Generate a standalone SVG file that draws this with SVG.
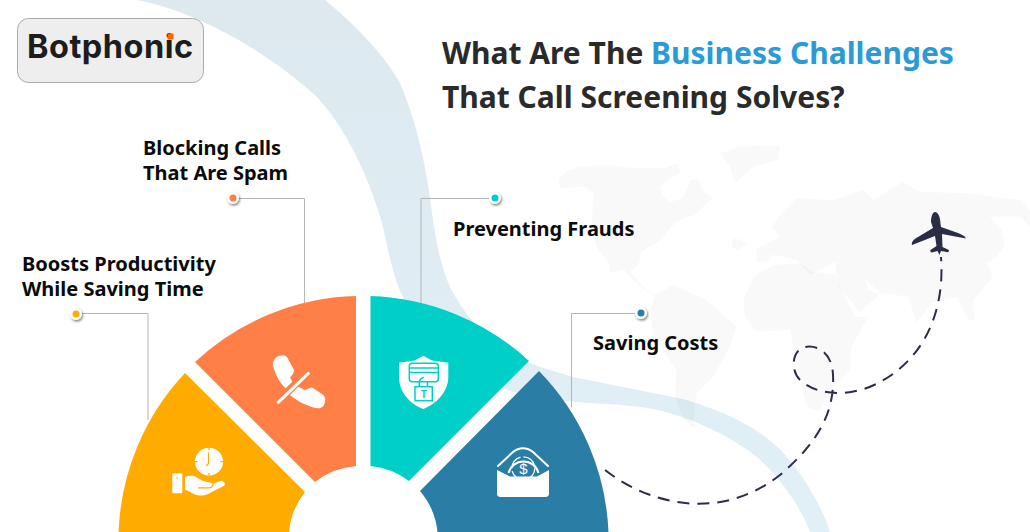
<svg xmlns="http://www.w3.org/2000/svg" width="1030" height="532" viewBox="0 0 1030 532">
<style>
.t{font-family:"Noto Sans","Open Sans",sans-serif;font-weight:700;fill:#2a2a2a;font-size:30px}
.l{font-family:"Noto Sans","Open Sans",sans-serif;font-weight:700;fill:#0b0b0b;font-size:20px}
.c{fill:none;stroke:#b4b4b4;stroke-width:1}
.w{fill:#fff}
.map{fill:#000;fill-opacity:.024}
</style>
<defs>
<linearGradient id="band" x1="0" y1="0" x2="0" y2="1"><stop offset="0" stop-color="#dde9ef"/><stop offset="1" stop-color="#e1f0f7"/></linearGradient>
<filter id="sh" x="-50%" y="-50%" width="200%" height="200%"><feDropShadow dx="1" dy="1.500" stdDeviation="1" flood-color="#000" flood-opacity=".5"/></filter>
</defs>
<rect width="1030" height="532" fill="#fff"/>
<g id="background">
<path fill="url(#band)" d="M137,0 C190,10 260,45 317,97 C352,135 373,190 383,227 C390,260 395,282 403,297 C425,345 465,385 540,398 C570,403 610,403 640,407 C680,412 725,432 757,457 C780,478 800,505 810,532 L830,532 C820,500 795,462 773,443 C755,428 735,418 723,413 C700,404 685,399 673,397 L573,377 L540,367 C495,350 468,322 450,287 C440,265 436,240 432,213 C428,180 420,130 400,83 C385,55 350,20 325,0 Z"/>
<g id="map" transform="translate(540 130) scale(.3333)">
<path class="map" d="M55,150 L75,125 L115,110 L200,105 L290,115 L370,115 L415,100 L420,130 L385,150 L360,170 L365,195 L390,215 L430,205 L450,150 L475,145 L490,185 L520,205 L495,225 L465,255 L420,270 L395,290 L355,335 L305,365 L295,405 L270,425 L320,480 L345,495 L400,465 L500,510 L590,590 L570,650 L520,740 L470,790 L462,860 L465,895 L430,870 L405,800 L410,720 L340,620 L330,540 L345,500 L300,470 L250,420 L210,430 L205,395 L170,355 L155,290 L160,190 L135,170 L60,175 Z"/>
<path class="map" d="M540,70 L600,50 L720,45 L715,90 L640,110 L585,160 L570,110 Z"/>
<path class="map" d="M580,325 L605,330 L620,345 L590,362 L575,350 Z"/>
<path class="map" d="M610,510 L640,440 L700,405 L780,400 L820,425 L885,432 L900,470 L945,560 L985,560 L935,650 L930,720 L880,770 L835,845 L800,830 L770,700 L750,600 L650,605 L615,560 Z"/>
<path class="map" d="M650,395 L650,355 L720,320 L695,290 L725,250 L770,205 L880,210 L970,180 L1000,210 L1090,155 L1140,185 L1290,190 L1440,210 L1470,240 L1470,290 L1440,260 L1350,260 L1385,300 L1395,345 L1370,380 L1340,400 L1360,440 L1300,510 L1305,570 L1285,572 L1250,500 L1175,520 L1130,580 L1105,500 L1020,490 L975,445 L985,480 L1020,492 L960,545 L895,470 L888,430 L888,395 L810,435 L770,390 L700,375 L680,395 Z"/>
</g>
</g>
<g id="connectors">
<path class="c" d="M76,313.500 H148 V420"/>
<path class="c" d="M233,198.500 H304.500 V303"/>
<path class="c" d="M495,198.500 H421 V303"/>
<path class="c" d="M641,313.500 H571.500 V407"/>
<path id="flight" fill="none" stroke="#2a2d45" stroke-width="2" stroke-dasharray="12 8" d="M605,470 C650,505 720,522 780,475 C815,445 835,415 833,375 C832,350 815,345 805,347 C792,350 790,370 800,380 C820,398 855,396 880,382 C925,358 945,310 941,257"/>
</g>
<g id="logo">
<rect x="17.500" y="18.500" width="186" height="64" rx="11" fill="#eee" stroke="#aaa"/>
<text x="27" y="57.500" font-family="Inter,sans-serif" font-weight="700" font-size="32.500" letter-spacing=".5" fill="#1d1d1d">Botphonic</text>
<rect x="167.500" y="33.500" width="6" height="6" fill="#f60"/>
</g>
<g id="title">
<text class="t" x="442" y="64">What Are The <tspan fill="#2b9bd6">Business Challenges</tspan></text>
<text class="t" x="442" y="108">That Call Screening Solves?</text>
</g>
<g id="node-productivity">
<path fill="#ffab00" d="M185,373 A245,245 0 0 0 118.600,532 L289,532 A75,75 0 0 1 305,492 Z"/>
<circle class="w" cx="209" cy="461.700" r="14"/>
<path fill="none" stroke="#ffab00" stroke-width="1.200" d="M209,447 V450 M209,473 V476.500 M194,461.700 H197.500 M220.500,461.700 H224 M208.500,452.500 L208.500,463.500 L206,466"/>
<rect class="w" x="172.300" y="473.300" width="10" height="20" rx="1"/>
<circle cx="177.300" cy="478.300" r=".8" fill="#ffab00"/>
<path class="w" d="M185,477 C189,475 193,475 196,477 L203,481 C207,482 211,482 213,484 L220,481 C223,480 226,483 224.500,485.500 L209,493.500 C204,496 199,496 195,494.500 L185,489.500 Z"/>
<path fill="none" stroke="#ffab00" stroke-width="1.200" d="M198,487.800 H209 C212,487.800 213,486 213,484"/>
<text class="l" x="22" y="271">Boosts Productivity</text>
<text class="l" x="22" y="296">While Saving Time</text>
<g filter="url(#sh)"><circle class="w" cx="76" cy="314" r="6"/></g>
<circle cx="76" cy="314" r="3.500" fill="#ffab00"/>
</g>
<g id="node-spam">
<path fill="#ff7f47" d="M356,296 A245,245 0 0 0 195,362 L315,482 A75,75 0 0 1 356,466 Z"/>
<path class="w" d="M272.700,365 C273,360 276,356 280,355.700 C283,355 286,355.500 287,357 L294,370 C294,373 292,376 290,377.300 L292.300,381.700 L285.700,388.300 C281,384 276,377 272.700,365 Z"/>
<path class="w" d="M298.300,386.700 L305,390 L311.700,387.300 L322,394 C325,396 326,399 325,402 C324,406 322,408.300 318,408.300 C309,407 298,402 290,395 Z"/>
<path fill="none" stroke="#ff7f47" stroke-width="5" d="M309,372 L277,403"/>
<path fill="none" stroke="#fff" stroke-width="3" stroke-linecap="round" d="M308.300,373.300 L278.300,402.300"/>
<text class="l" x="143" y="155">Blocking Calls</text>
<text class="l" x="143" y="180">That Are Spam</text>
<g filter="url(#sh)"><circle class="w" cx="233" cy="198" r="6"/></g>
<circle cx="233" cy="198" r="3.500" fill="#ff7f47"/>
</g>
<g id="node-frauds">
<path fill="#00cfc8" d="M370.500,296 A245,245 0 0 1 529,361 L409,481 A75,75 0 0 0 370.500,466 Z"/>
<path class="w" d="M423.300,355.700 L432,360.500 L448.300,362.700 V377 C448.300,392 436,404 423.300,409 C410,404 399,392 399,377 V362.700 L414.500,360.500 Z"/>
<g fill="none" stroke="#00cfc8" stroke-width="1.500">
<rect x="409.300" y="363.300" width="29" height="18.400" rx="3"/>
<path d="M409.300,368 H438.300 M409.300,372.500 H438.300 M419.300,386.700 V383 C419.300,380 421,378 424,377.500 M427.500,381.700 V386.700"/>
<rect x="415" y="386.700" width="17.300" height="14" fill="#fff"/>
</g>
<text x="423.700" y="398" text-anchor="middle" font-family="Liberation Sans,sans-serif" font-weight="700" font-size="10" fill="#00cfc8">T</text>
<text class="l" x="453" y="236">Preventing Frauds</text>
<g filter="url(#sh)"><circle class="w" cx="495" cy="198" r="6"/></g>
<circle cx="495" cy="198" r="3.500" fill="#00cfc8"/>
</g>
<g id="node-costs">
<path fill="#2a7ea5" d="M539,371 A245,245 0 0 1 608.500,532 L437.500,532 A75,75 0 0 0 420,491 Z"/>
<path class="w" d="M497,470 L510,476.500 H537 L549,470 V494 C549,496 547.500,497 545.500,497 H500.500 C498.500,497 497,496 497,494 Z"/>
<path fill="none" stroke="#fff" stroke-width="2" stroke-linecap="round" d="M498,466 L513,452 C519,447 527,447 533,452 L548,466"/>
<path fill="none" stroke="#fff" stroke-width="2" d="M508.500,473 A15.500,15.500 0 0 1 538.500,473"/>
<circle cx="523.300" cy="468.300" r="11.500" fill="none" stroke="#fff" stroke-width="1.300" stroke-dasharray="15 3"/>
<text x="523.300" y="474" text-anchor="middle" font-family="Liberation Sans,sans-serif" font-weight="400" font-size="15" fill="#fff">$</text>
<text class="l" x="593" y="350">Saving Costs</text>
<g filter="url(#sh)"><circle class="w" cx="641" cy="313" r="6"/></g>
<circle cx="641" cy="313" r="3.500" fill="#2a7ea5"/>
</g>
<g id="plane">
<path fill="#2a2d45" d="M935,212 C938,212 940.500,217 940.500,224 L941,227 L958,233 C962,234.500 965,236 966,238.500 L942,234 L942.500,247 L949,250 C949,252 948,252.500 946.500,252 L941,251 L939.500,255 L937.500,251 L932,252.500 C930.500,252.500 930,251 930.500,250 L936.500,246 L935,236 L912,245 C911,242 914,239 918,237 L933,228 L931,222 C931,216 933,212 935,212 Z"/>
</g>
</svg>
